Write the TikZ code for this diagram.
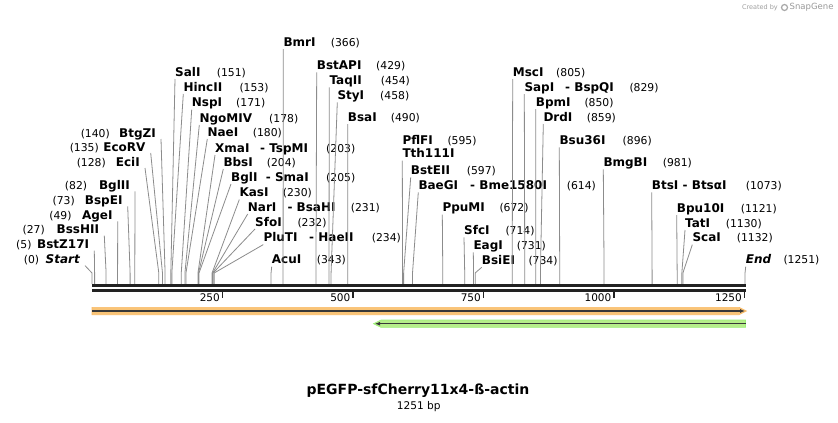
\documentclass[tikz,border=0pt]{standalone}
\usepackage{fontspec}
\setmainfont{DejaVu Sans}
\usetikzlibrary{positioning, calc, arrows.meta}
\definecolor{cutline}{HTML}{8C8C8C}
\definecolor{rulerdark}{HTML}{222222}
\definecolor{featorange}{HTML}{F9C477}
\definecolor{featgreen}{HTML}{B6EE8A}

\begin{document}
\begin{tikzpicture}[x=1pt, y=-1pt,
	enz/.style={font=\fontsize{12}{14}\selectfont\bfseries, inner sep=0pt, anchor=base west},
	enzl/.style={enz, anchor=base east},
	num/.style={font=\fontsize{10.8}{13}\selectfont, inner sep=0pt, anchor=base west},
	numl/.style={num, anchor=base east},
	cut/.style={draw=cutline, line width=0.8pt},
	bar/.style={draw=rulerdark, line width=3pt},
	tickmark/.style={draw=rulerdark, line width=1.5pt},
	strand/.style={draw=rulerdark!90, line width=1.5pt, -{Latex[length=5pt,width=4pt]}}]
	\fill[white] (0,0) rectangle (838,423);
	\useasboundingbox (0,0) rectangle (838,423);

	% sites on the ruler
	\foreach \p in {0,5,27,49,73,82,128,135,140,151,153,171,178,180,203,204,205,230,231,232,234,343,366,429,454,458,490,595,597,614,672,714,731,734,805,829,850,859,896,981,1073,1121,1130,1132,1251}
		\coordinate (s\p) at ({92+0.522*\p},284);

	% left-hand labels
	\node[numl] (n140) at (110,137) {(140)};   \node[enzl] (BtgZI) at (156,137) {BtgZI};
	\node[numl] (n135) at (99,151) {(135)};    \node[enzl] (EcoRV) at (145.7,151) {EcoRV};
	\node[numl] (n128) at (106,166) {(128)};   \node[enzl] (EciI) at (140,166) {EciI};
	\node[numl] (n82) at (87.3,189.3) {(82)};  \node[enzl] (BglII) at (130,189.3) {BglII};
	\node[numl] (n73) at (75,204.3) {(73)};    \node[enzl] (BspEI) at (122.7,204.3) {BspEI};
	\node[numl] (n49) at (71.7,219.3) {(49)};  \node[enzl] (AgeI) at (112.7,219.3) {AgeI};
	\node[numl] (n27) at (45,233.6) {(27)};    \node[enzl] (BssHII) at (99.3,233.6) {BssHII};
	\node[numl] (n5) at (31.7,248.6) {(5)};    \node[enzl] (BstZ17I) at (89.3,248.6) {BstZ17I};
	\node[numl] (n0) at (39.3,263.6) {(0)};    \node[enzl, font=\fontsize{12}{14}\selectfont\bfseries\itshape] (Start) at (80,263.6) {Start};

	% right-hand labels
	\node[enz] (SalI) at (175,76) {SalI};          \node[num] (n151) at (216.7,76) {(151)};
	\node[enz] (HincII) at (183.3,91) {HincII};    \node[num] (n153) at (239.3,91) {(153)};
	\node[enz] (NspI) at (191.7,106.6) {NspI};     \node[num] (n171) at (236,106.6) {(171)};
	\node[enz] (NgoMIV) at (199.3,122) {NgoMIV};   \node[num] (n178) at (269,122) {(178)};
	\node[enz] (NaeI) at (207.3,136) {NaeI};       \node[num] (n180) at (252.7,136) {(180)};
	\node[enz] (XmaI) at (215,152) {XmaI};         \node[enz] (TspMI) at (260,152) {- TspMI};  \node[num] (n203) at (326,152) {(203)};
	\node[enz] (BbsI) at (223.3,166) {BbsI};       \node[num] (n204) at (266.7,166) {(204)};
	\node[enz] (BglI) at (231,181) {BglI};         \node[enz] (SmaI) at (265.7,181) {- SmaI};  \node[num] (n205) at (326,181) {(205)};
	\node[enz] (KasI) at (239.3,196.6) {KasI};     \node[num] (n230) at (282.7,196.6) {(230)};
	\node[enz] (NarI) at (247.7,211) {NarI};       \node[enz] (BsaHI) at (287.3,211) {- BsaHI};  \node[num] (n231) at (350.7,211) {(231)};
	\node[enz] (SfoI) at (255,226) {SfoI};         \node[num] (n232) at (297.3,226) {(232)};
	\node[enz] (PluTI) at (263.3,241.6) {PluTI};   \node[enz] (HaeII) at (309,241.6) {- HaeII};  \node[num] (n234) at (371.7,241.6) {(234)};
	\node[enz] (AcuI) at (271.7,263.6) {AcuI};     \node[num] (n343) at (316.7,263.6) {(343)};
	\node[enz] (BmrI) at (283.3,46) {BmrI};        \node[num] (n366) at (330.7,46) {(366)};
	\node[enz] (BstAPI) at (316.7,69.3) {BstAPI};  \node[num] (n429) at (376,69.3) {(429)};
	\node[enz] (TaqII) at (329.3,84.3) {TaqII};    \node[num] (n454) at (380.7,84.3) {(454)};
	\node[enz] (StyI) at (337.3,99.3) {StyI};      \node[num] (n458) at (380,99.3) {(458)};
	\node[enz] (BsaI) at (347.7,121) {BsaI};       \node[num] (n490) at (390.7,121) {(490)};
	\node[enz] (PflFI) at (402.3,144.3) {PflFI};   \node[num] (n595) at (447.3,144.3) {(595)};
	\node[enz] (Tth111I) at (402.3,157.6) {Tth111I};
	\node[enz] (BstEII) at (410.7,174.3) {BstEII}; \node[num] (n597) at (466.7,174.3) {(597)};
	\node[enz] (BaeGI) at (418.3,189.3) {BaeGI};   \node[enz] (Bme1580I) at (470,189.3) {- Bme1580I};  \node[num] (n614) at (566.7,189.3) {(614)};
	\node[enz] (PpuMI) at (442.3,211.6) {PpuMI};   \node[num] (n672) at (499.3,211.6) {(672)};
	\node[enz] (SfcI) at (464,234.3) {SfcI};       \node[num] (n714) at (505.3,234.3) {(714)};
	\node[enz] (EagI) at (473.3,249.3) {EagI};     \node[num] (n731) at (516.7,249.3) {(731)};
	\node[enz] (BsiEI) at (481.7,264.3) {BsiEI};   \node[num] (n734) at (528.3,264.3) {(734)};
	\node[enz] (MscI) at (512.7,76) {MscI};        \node[num] (n805) at (556,76) {(805)};
	\node[enz] (SapI) at (524.3,91) {SapI};        \node[enz] (BspQI) at (565,91) {- BspQI};  \node[num] (n829) at (629.3,91) {(829)};
	\node[enz] (BpmI) at (535.7,106) {BpmI};       \node[num] (n850) at (584.3,106) {(850)};
	\node[enz] (DrdI) at (543.3,121) {DrdI};       \node[num] (n859) at (586.7,121) {(859)};
	\node[enz] (Bsu36I) at (559.3,144.3) {Bsu36I}; \node[num] (n896) at (622.5,144.3) {(896)};
	\node[enz] (BmgBI) at (603.3,166.3) {BmgBI};   \node[num] (n981) at (662.7,166.3) {(981)};
	\node[enz] (BtsI) at (651.7,189.3) {BtsI};     \node[enz] (BtsaI) at (682.5,189.3) {- BtsαI};  \node[num] (n1073) at (745.7,189.3) {(1073)};
	\node[enz] (Bpu10I) at (676.7,212) {Bpu10I};   \node[num] (n1121) at (740.7,212) {(1121)};
	\node[enz] (TatI) at (685,227) {TatI};         \node[num] (n1130) at (725.7,227) {(1130)};
	\node[enz] (ScaI) at (692.3,241.6) {ScaI};     \node[num] (n1132) at (736.7,241.6) {(1132)};
	\node[enz, font=\fontsize{12}{14}\selectfont\bfseries\itshape] (End) at (745.7,263.6) {End};  \node[num] (n1251) at (783.3,263.6) {(1251)};

	% cut lines
	\foreach \e/\p in {BtgZI/140, EcoRV/135, EciI/128, BglII/82, BspEI/73, AgeI/49, BssHII/27, BstZ17I/5, Start/0}
		\draw[cut] ([xshift=5pt,yshift=-2pt]\e.base east) -- ([yshift=11pt]s\p) -- (s\p);
	\foreach \e/\p in {SalI/151, HincII/153, NspI/171, NgoMIV/178, NaeI/180, XmaI/203, BbsI/204, BglI/205, KasI/230, NarI/231, SfoI/232, PluTI/234, AcuI/343, BmrI/366, BstAPI/429, TaqII/454, StyI/458, BsaI/490, Tth111I/595, BstEII/597, BaeGI/614, PpuMI/672, SfcI/714, EagI/731, BsiEI/734, MscI/805, SapI/829, BpmI/850, DrdI/859, Bsu36I/896, BmgBI/981, BtsI/1073, Bpu10I/1121, TatI/1130, ScaI/1132, End/1251}
		\draw[cut] ([yshift=-3pt]\e.base west) -- ([yshift=11pt]s\p) -- (s\p);

	% ruler
	\draw[bar] (92,285.5) -- (745.5,285.5);
	\draw[bar] (92,290.3) -- (745.5,290.3);
	\foreach \t in {250,500,750,1000,1250} {
		\draw[tickmark] ({92+0.522*\t},291) -- ++(0,6.5);
		\node[numl, font=\fontsize{10.5}{12}\selectfont] (t\t) at ({92+0.522*\t-2.5},301) {\t};
	}

	% features
	\fill[featorange, draw=featorange!85!orange, line width=0.6pt] (92,307.3) -- (739,307.3) -- (746.5,311) -- (739,314.7) -- (92,314.7) -- cycle;
	\draw[strand] (92,311) -- (745,311);
	\fill[featgreen, draw=featgreen!85!green, line width=0.6pt] (745.5,320) -- (381,320) -- (373.5,323.7) -- (381,327.4) -- (745.5,327.4) -- cycle;
	\draw[strand] (745.5,323.7) -- (375,323.7);

	% title
	\node[font=\fontsize{14}{16}\selectfont\bfseries] (title) at (418,391) {pEGFP-sfCherry11x4-ß-actin};
	\node[font=\fontsize{10.6}{12}\selectfont] (length) at (418.7,407) {1251 bp};

	% credit
	\node[font=\fontsize{6.5}{7}\selectfont, text=gray!75, anchor=east, inner sep=0pt] (made) at (778,7.5) {Created by};
	\node[circle, draw=gray!70, line width=1.2pt, inner sep=0pt, minimum size=6pt] (logo) at (784.5,7.5) {};
	\node[font=\fontsize{8.5}{9}\selectfont, text=gray!80, anchor=west, inner sep=0pt] (snapgene) at (789.5,7.5) {SnapGene};
\end{tikzpicture}
\end{document}
